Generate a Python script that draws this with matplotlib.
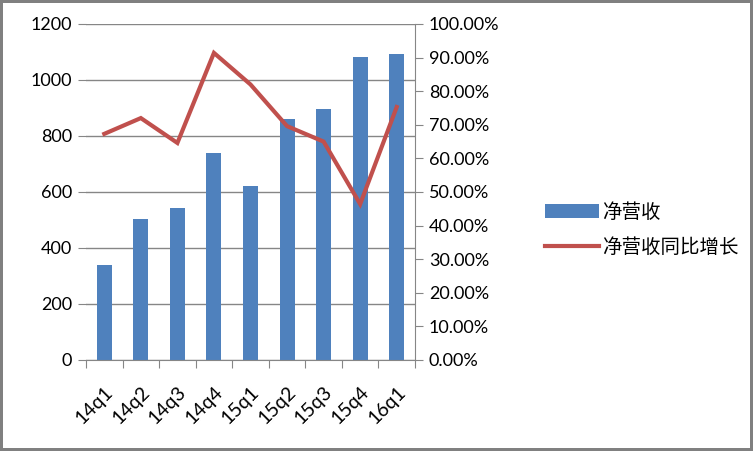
import matplotlib.pyplot as plt
from matplotlib.lines import Line2D
from matplotlib.patches import Patch
from matplotlib.ticker import FuncFormatter
import numpy as np

plt.rcParams['font.family'] = ['Lato', 'Noto Sans CJK SC', 'DejaVu Sans']

quarters = ['14q1', '14q2', '14q3', '14q4', '15q1', '15q2', '15q3', '15q4', '16q1']
revenue = [339, 504, 543, 739, 621, 861, 896, 1082, 1093]
growth = [0.673, 0.720, 0.646, 0.914, 0.820, 0.696, 0.650, 0.464, 0.753]

blue = '#4F81BD'
red = '#C0504D'
grid_c = '#868686'

fig = plt.figure(figsize=(7.53, 4.51), dpi=100)
fig.patch.set_edgecolor('#808080')
fig.patch.set_linewidth(3)
ax = fig.add_axes([86 / 753, 1 - 360 / 451, 329 / 753, 336 / 451])

x = np.arange(len(quarters))
ax.bar(x, revenue, width=0.41, color=blue, zorder=2)
ax.set_xlim(-0.5, len(quarters) - 0.5)
ax.set_ylim(0, 1200)
ax.set_yticks(range(0, 1201, 200))
ax.grid(axis='y', color=grid_c, linewidth=1, zorder=0)
ax.set_xticks(np.arange(-0.5, len(quarters), 1))
ax.set_xticklabels([])
ax.set_xticks(x, minor=True)
ax.set_xticklabels(quarters, minor=True, rotation=45, ha='right',
                   rotation_mode='anchor', fontsize=14)
ax.tick_params(axis='x', which='minor', length=0, pad=17)
ax.tick_params(axis='x', which='major', length=6, color=grid_c)
ax.tick_params(axis='y', length=6, color=grid_c, labelsize=13, pad=4)
for s in ['top', 'left', 'right']:
    ax.spines[s].set_visible(False)
ax.spines['bottom'].set_color(grid_c)

ax2 = ax.twinx()
ax2.plot(x, growth, color=red, linewidth=3, solid_joinstyle='miter', zorder=3)
ax2.set_ylim(0, 1.0)
ax2.set_yticks(np.arange(0, 1.01, 0.1))
ax2.yaxis.set_major_formatter(FuncFormatter(lambda v, p: f'{v * 100:.2f}%'))
ax2.tick_params(axis='y', length=6, color=grid_c, labelsize=13, pad=4)
for s in ['top', 'left', 'bottom']:
    ax2.spines[s].set_visible(False)
ax2.spines['right'].set_color(grid_c)

handles = [Patch(facecolor=blue, edgecolor='none'),
           Line2D([0], [0], color=red, linewidth=3)]
fig.legend(handles, ['净营收', '净营收同比增长'], loc='upper left',
           bbox_to_anchor=(527 / 753, 1 - 184 / 451), frameon=False,
           prop={'family': 'Noto Sans CJK SC', 'size': 14, 'weight': 'light'},
           handlelength=2.8, labelspacing=0.75, handletextpad=0.15)

fig.savefig('out.png', dpi=100)
